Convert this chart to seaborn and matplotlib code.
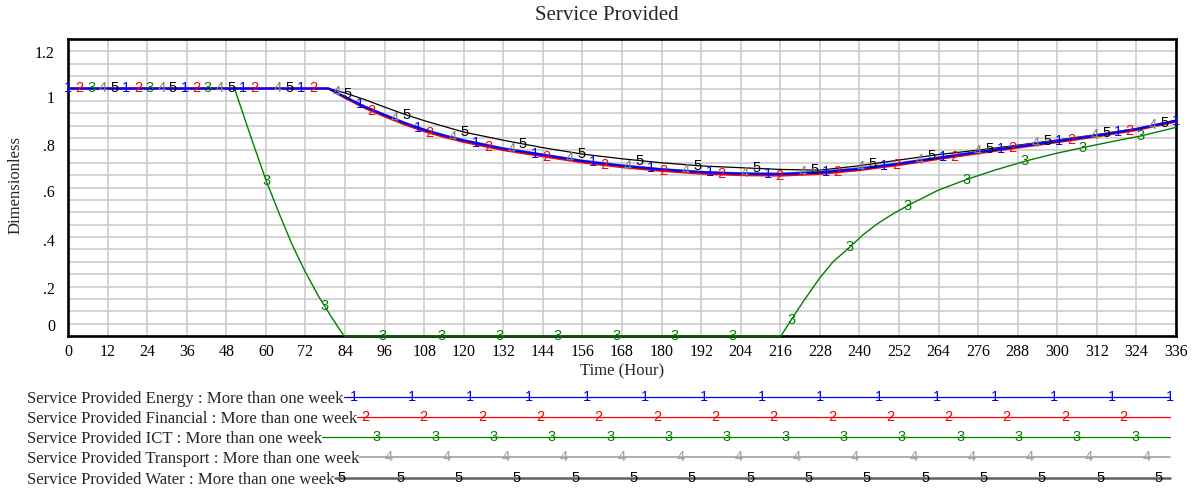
import numpy as np
import pandas as pd
import matplotlib
matplotlib.use("Agg")
import matplotlib.pyplot as plt
import seaborn as sns
from matplotlib.lines import Line2D
from matplotlib.transforms import ScaledTranslation

# ---------------- data ----------------
hours_main = [0, 79, 84, 90, 96, 102, 108, 114, 120, 132, 144, 156, 168, 180,
              192, 204, 216, 228, 240, 252, 264, 276, 288, 300, 312, 324, 336]
energy = [1.0, 1.0, 0.966, 0.926, 0.893, 0.861, 0.833, 0.810, 0.790, 0.757, 0.732,
          0.707, 0.688, 0.673, 0.662, 0.656, 0.654, 0.661, 0.675, 0.696, 0.720,
          0.743, 0.765, 0.787, 0.810, 0.836, 0.870]
financial = [1.0, 1.0, 0.962, 0.921, 0.887, 0.855, 0.827, 0.804, 0.784, 0.751, 0.726,
             0.701, 0.682, 0.667, 0.656, 0.650, 0.648, 0.655, 0.670, 0.691, 0.715,
             0.738, 0.761, 0.783, 0.806, 0.832, 0.866]
transport = [1.0, 1.0, 0.968, 0.929, 0.896, 0.864, 0.836, 0.813, 0.793, 0.760, 0.735,
             0.710, 0.691, 0.676, 0.665, 0.659, 0.658, 0.666, 0.680, 0.700, 0.723,
             0.746, 0.768, 0.790, 0.812, 0.838, 0.871]
water = [1.0, 1.0, 0.982, 0.955, 0.925, 0.896, 0.870, 0.847, 0.824, 0.791, 0.761,
         0.735, 0.716, 0.700, 0.687, 0.680, 0.673, 0.670, 0.688, 0.711, 0.733,
         0.751, 0.771, 0.792, 0.814, 0.838, 0.872]

hours_ict = [0, 50.5, 53, 56, 60, 64, 68, 72, 76, 80, 83.7, 216.2, 219.2, 223,
             228.1, 232, 237, 241, 245.4, 250, 254.8, 263.7, 272.6, 281.5, 290.4,
             299, 308, 316.8, 325.6, 336]
ict = [1.0, 1.0, 0.901, 0.783, 0.631, 0.496, 0.368, 0.258, 0.160, 0.074, 0.0, 0.0,
       0.063, 0.140, 0.237, 0.300, 0.358, 0.408, 0.453, 0.492, 0.528, 0.588, 0.633,
       0.672, 0.707, 0.736, 0.762, 0.786, 0.809, 0.843]

series_keys = ["Energy", "Financial", "ICT", "Transport", "Water"]
series_labels = [
    "Service Provided Energy : More than one week",
    "Service Provided Financial : More than one week",
    "Service Provided ICT : More than one week",
    "Service Provided Transport : More than one week",
    "Service Provided Water : More than one week",
]
series_ids = ["1", "2", "3", "4", "5"]
x_ticks = list(range(0, 337, 12))
y_ticks = [0, 0.2, 0.4, 0.6, 0.8, 1.0, 1.2]
y_tick_labels = ["0", ".2", ".4", ".6", ".8", "1", "1.2"]
title = "Service Provided"
x_label = "Time (Hour)"
y_label = "Dimensionless"

# ---------------- styles ----------------
colors = {"Energy": "#0000ff", "Financial": "#ff0000", "ICT": "#008000",
          "Transport": "#808080", "Water": "#000000"}
widths = {"Energy": 1.6, "Financial": 1.5, "ICT": 1.0, "Transport": 1.0, "Water": 0.9}
legend_colors = {"Energy": "#0000ff", "Financial": "#ff0000", "ICT": "#008000",
                 "Transport": "#a0a0a0", "Water": "#606060"}
legend_widths = {"Energy": 0.9, "Financial": 0.9, "ICT": 0.9, "Transport": 1.2, "Water": 1.8}
marker_size = 10.5
W, H = 1201, 493
ax_left, ax_right, ax_top, ax_bottom = 68, 1176, 39, 336

main = pd.DataFrame({"Hour": hours_main, "Energy": energy, "Financial": financial,
                     "Transport": transport, "Water": water})
long = main.melt(id_vars="Hour", var_name="Series", value_name="Value")
ict_df = pd.DataFrame({"Hour": hours_ict, "Series": "ICT", "Value": ict})
df = pd.concat([long, ict_df], ignore_index=True)

sns.set_style("white")
plt.rcParams["font.family"] = ["Liberation Serif", "DejaVu Serif"]

fig = plt.figure(figsize=(W / 100, H / 100), dpi=100)
ax = fig.add_axes([ax_left / W, 1 - ax_bottom / H, (ax_right - ax_left) / W,
                   (ax_bottom - ax_top) / H])

draw_order = ["Water", "Transport", "ICT", "Financial", "Energy"]
for z, key in enumerate(draw_order):
    sub = df[df["Series"] == key]
    sns.lineplot(data=sub, x="Hour", y="Value", color=colors[key], linewidth=widths[key],
                 ax=ax, legend=False, zorder=4 + z, estimator=None, sort=True)
for ln in ax.get_lines():
    ln.set_clip_on(False)

ax.set_xlim(0, 336)
ax.set_ylim(0, 1.2)
ax.set_xticks(x_ticks)
ax.set_xticklabels([str(v) for v in x_ticks])
ax.set_yticks(y_ticks)
ax.set_yticklabels(y_tick_labels)
ax.set_yticks(np.linspace(0, 1.2, 25), minor=True)
ax.grid(True, which="both", color="#c8c8c8", linewidth=1.1)
ax.tick_params(axis="both", which="both", length=0, labelsize=11.5, colors="black")
ax.tick_params(axis="y", pad=9.4)
ax.tick_params(axis="x", pad=5.5)
for sp in ax.spines.values():
    sp.set_visible(True)
    sp.set_color("black")
    sp.set_linewidth(1.9)
    sp.set_zorder(3)

ax.set_xlabel(x_label, fontsize=12)
ax.set_ylabel(y_label, fontsize=12)
ax.xaxis.set_label_coords(0.5, (ax_bottom - 371) / (ax_bottom - ax_top))
ax.xaxis.label.set_va("center")
ax.yaxis.set_label_coords((16 - ax_left) / (ax_right - ax_left),
                          (ax_bottom - 185) / (ax_bottom - ax_top))
ax.yaxis.label.set_va("center")

fig.text(607 / W, 1 - 16 / H, title, fontsize=15, ha="center", va="center")

# numbered markers along the curves (Vensim style)
period = 336 / 19
stagger = period / 5
series_data = {"Energy": (hours_main, energy), "Financial": (hours_main, financial),
               "ICT": (hours_ict, ict), "Transport": (hours_main, transport),
               "Water": (hours_main, water)}
for k, key in enumerate(series_keys):
    hrs, vals = series_data[key]
    mt = np.arange(k * stagger, 336 + 1e-6, period)
    mv = np.interp(mt, hrs, vals)
    for t, v in zip(mt, mv):
        ax.text(t, v, series_ids[k], color=colors[key], fontsize=marker_size, ha="center",
                va="center", family="Liberation Sans", zorder=20, clip_on=False)

# y tick label placement (Vensim draws its labels compressed toward the middle)
label_shift_px = [-11, 1.5, 3, 3.5, 7, 8.2, 12.7]
fig.canvas.draw()
for lab, dy in zip(ax.yaxis.get_majorticklabels(), label_shift_px):
    lab.set_transform(lab.get_transform() + ScaledTranslation(0, -dy / 100, fig.dpi_scale_trans))

# legend rows
legend_rows_y = [397, 417, 437, 457, 478]
legend_line_end = 1170
legend_mark_start = {"Water": 342.0, "Energy": 353.66, "Financial": 365.32,
                     "ICT": 376.98, "Transport": 388.64}
renderer = fig.canvas.get_renderer()
for k, key in enumerate(series_keys):
    yf = 1 - legend_rows_y[k] / H
    t = fig.text(27 / W, yf, series_labels[k], fontsize=12.1, ha="left", va="center_baseline")
    bb = t.get_window_extent(renderer)
    fig.add_artist(Line2D([bb.x1 / W, legend_line_end / W], [yf, yf],
                          transform=fig.transFigure, color=legend_colors[key],
                          linewidth=legend_widths[key]))
    mark_color = colors[key] if key != "Transport" else legend_colors[key]
    for xm in np.arange(legend_mark_start[key], legend_line_end + 0.5,
                        period * (ax_right - ax_left) / 336):
        fig.text(xm / W, yf, series_ids[k], color=mark_color, fontsize=marker_size,
                 ha="center", va="center", family="Liberation Sans")

fig.savefig("out.png", dpi=100)
